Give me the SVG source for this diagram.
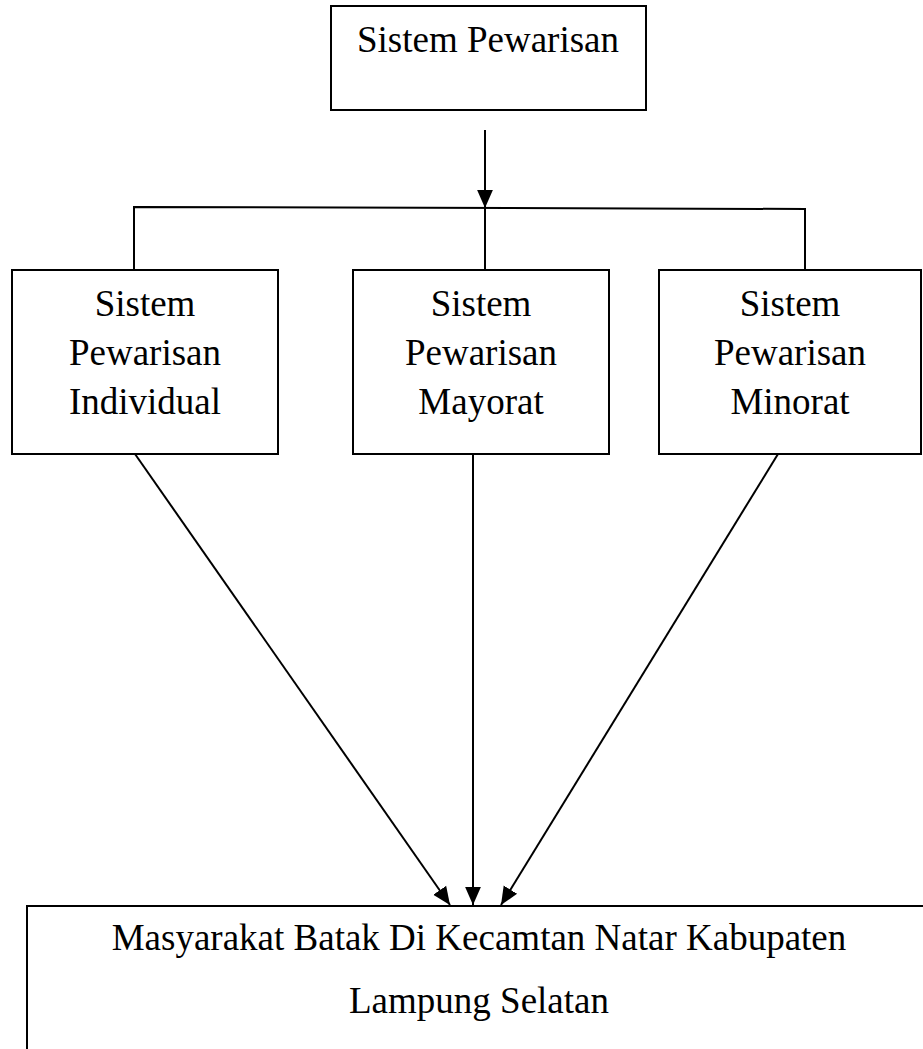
<svg xmlns="http://www.w3.org/2000/svg" width="923" height="1049" viewBox="0 0 923 1049">
<style>
.box{fill:#fff;stroke:#000;stroke-width:2}
.ln{fill:none;stroke:#000;stroke-width:2}
.t{font-family:"Liberation Serif","Times New Roman",serif;font-size:37px;fill:#000;text-anchor:middle}
</style>
<defs>
<marker id="ah" markerUnits="userSpaceOnUse" markerWidth="18" markerHeight="18" viewBox="0 0 16 16" refX="16" refY="8" orient="auto">
<path d="M0,1 L16,8 L0,15 Z" fill="#000"/>
</marker>
</defs>
<rect width="923" height="1049" fill="#fff"/>
<g id="connectors">
<line class="ln" x1="485" y1="130" x2="485" y2="208" marker-end="url(#ah)"/>
<polyline class="ln" points="134,270 134,207 805,209 805,270"/>
<line class="ln" x1="485" y1="207" x2="485" y2="270"/>
<line class="ln" x1="135" y1="454" x2="450" y2="905" marker-end="url(#ah)"/>
<line class="ln" x1="473" y1="454" x2="473" y2="905" marker-end="url(#ah)"/>
<line class="ln" x1="778" y1="454" x2="501" y2="905" marker-end="url(#ah)"/>
</g>
<g id="node-top">
<rect class="box" x="331" y="6" width="315" height="104"/>
<text class="t" x="488" y="52">Sistem Pewarisan</text>
</g>
<g id="node-individual">
<rect class="box" x="12" y="270" width="266" height="184"/>
<text class="t" x="145" y="316">Sistem</text>
<text class="t" x="145" y="365">Pewarisan</text>
<text class="t" x="145" y="414">Individual</text>
</g>
<g id="node-mayorat">
<rect class="box" x="353" y="270" width="256" height="184"/>
<text class="t" x="481" y="316">Sistem</text>
<text class="t" x="481" y="365">Pewarisan</text>
<text class="t" x="481" y="414">Mayorat</text>
</g>
<g id="node-minorat">
<rect class="box" x="659" y="270" width="262" height="184"/>
<text class="t" x="790" y="316">Sistem</text>
<text class="t" x="790" y="365">Pewarisan</text>
<text class="t" x="790" y="414">Minorat</text>
</g>
<g id="node-bottom">
<rect class="box" x="27" y="906" width="905" height="200"/>
<text class="t" x="479" y="950">Masyarakat Batak Di Kecamtan Natar Kabupaten</text>
<text class="t" x="479" y="1013">Lampung Selatan</text>
</g>
</svg>
